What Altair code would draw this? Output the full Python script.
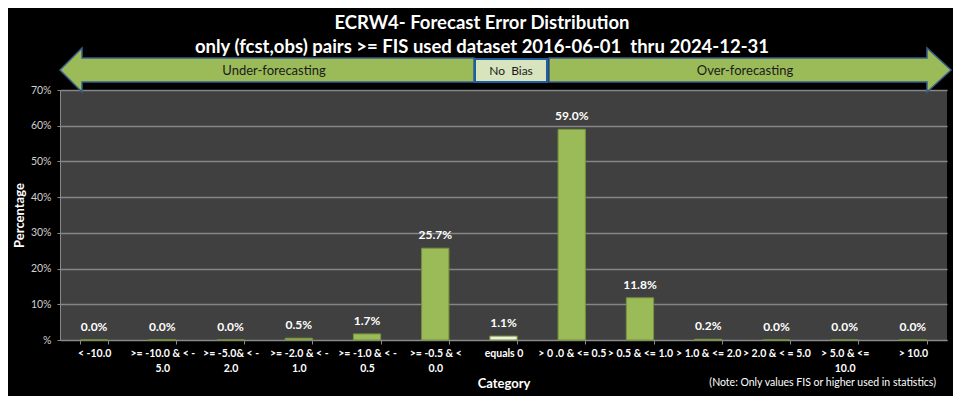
import altair as alt
import pandas as pd

# ---- data ----
categories = [
    "< -10.0",
    ">= -10.0 & < -|5.0",
    ">= -5.0& < -|2.0",
    ">= -2.0 & < -|1.0",
    ">= -1.0 & < -|0.5",
    ">= -0.5 & <|0.0",
    "equals 0",
    "> 0 .0 & <= 0.5",
    "> 0.5 & <= 1.0",
    "> 1.0 & <= 2.0",
    "> 2.0 & < = 5.0",
    "> 5.0 & <=|10.0",
    "> 10.0",
]
percentages = [0.0, 0.0, 0.0, 0.5, 1.7, 25.7, 1.1, 59.0, 11.8, 0.2, 0.0, 0.0, 0.0]
y_ticks = [0, 10, 20, 30, 40, 50, 60, 70]
title_line1 = "ECRW4- Forecast Error Distribution"
title_line2 = "only (fcst,obs) pairs >= FIS used dataset 2016-06-01\u00a0 thru 2024-12-31"
arrow_left_text = "Under-forecasting"
arrow_mid_text = "No\u00a0 Bias"
arrow_right_text = "Over-forecasting"
note_text = "(Note: Only values FIS or higher used in statistics)"

df = pd.DataFrame({"category": categories, "value": percentages})

FONT = "Lato"
W, H = 887, 250

x_enc = alt.X(
    "category:N",
    sort=None,
    scale=alt.Scale(paddingInner=0.6, paddingOuter=0.3),
    axis=alt.Axis(
        title="Category",
        titleColor="white",
        titleFont=FONT,
        titleFontSize=13,
        titleFontWeight="bold",
        titlePadding=4,
        labelExpr="split(datum.label, '|')",
        labelColor="white",
        labelFont=FONT,
        labelFontSize=10.5,
        labelFontWeight="bold",
        labelLineHeight=15,
        labelPadding=4,
        labelAngle=0,
        labelLimit=120,
        labelOverlap=False,
        tickBand="extent",
        tickColor="#8a8a8a",
        tickSize=4,
        domainColor="#8a8a8a",
        grid=False,
    ),
)
y_enc = alt.Y(
    "value:Q",
    scale=alt.Scale(domain=[0, 70], nice=False),
    axis=alt.Axis(
        title="Percentage",
        titleColor="white",
        titleFont=FONT,
        titleFontSize=13,
        titleFontWeight="bold",
        titlePadding=4,
        values=y_ticks,
        labelOverlap=False,
        labelExpr="datum.value == 0 ? '%' : datum.value + '%'",
        labelColor="#d0d0d0",
        labelFont=FONT,
        labelFontSize=10.5,
        labelPadding=6,
        tickColor="#8a8a8a",
        tickSize=3,
        domainColor="#8a8a8a",
        grid=True,
        gridColor="#858585",
        gridWidth=1.5,
    ),
)

base = alt.Chart(df)

bars = base.mark_bar(stroke="#77933c", strokeWidth=1).encode(
    x=x_enc,
    y=y_enc,
    fill=alt.condition(
        alt.datum.category == "equals 0", alt.value("#ebf1de"), alt.value("#9bbb59")
    ),
)

labels = base.transform_calculate(
    label="format(datum.value, '.1f') + '%'"
).mark_text(
    baseline="bottom", dy=-6, color="white", font=FONT, fontSize=12, fontWeight="bold"
).encode(x=x_enc, y=y_enc, text="label:N")

one = alt.Data(values=[{"d": 0}])

left_path = "M0,-20 L22,-42 L22,-32 L414,-32 L414,-8 L22,-8 L22,2 Z"
right_path = "M489,-32 L867,-32 L867,-42 L891,-20 L867,2 L867,-8 L489,-8 Z"

arrow_left = alt.Chart(one).mark_point(
    shape=left_path, size=4, filled=True, fill="#9bbb59", stroke="#385d8a",
    strokeWidth=1.5, opacity=1, clip=False,
).encode(x=alt.value(0), y=alt.value(0))
arrow_right = alt.Chart(one).mark_point(
    shape=right_path, size=4, filled=True, fill="#9bbb59", stroke="#385d8a",
    strokeWidth=1.5, opacity=1, clip=False,
).encode(x=alt.value(0), y=alt.value(0))
nobias_box = alt.Chart(one).mark_rect(
    fill="#d7e4bd", stroke="#1f5f9f", strokeWidth=2, clip=False
).encode(x=alt.value(415), x2=alt.value(487), y=alt.value(-31), y2=alt.value(-8))

def deco_text(txt, x, y, size, color, weight="normal", baseline="middle", align="center"):
    return alt.Chart(one).mark_text(
        text=txt, font=FONT, fontSize=size, fontWeight=weight, color=color,
        baseline=baseline, align=align,
    ).encode(x=alt.value(x), y=alt.value(y))

t_left = deco_text(arrow_left_text, 214, -19, 13, "#1a1a1a")
t_mid = deco_text(arrow_mid_text, 451, -19, 12, "#1a1a1a")
t_right = deco_text(arrow_right_text, 685, -19, 13, "#1a1a1a")
title1 = deco_text(title_line1, 422, -61, 18.5, "white", "bold", "alphabetic")
title2 = deco_text(title_line2, 422, -37, 18.5, "white", "bold", "alphabetic")
note = deco_text(note_text, 876, 293, 10.5, "white", "normal", "middle", "right")

chart = alt.layer(
    bars, labels, arrow_left, arrow_right, nobias_box, t_left, t_mid, t_right,
    title1, title2, note,
).properties(
    width=W,
    height=H,
    background="#000000",
    autosize=alt.AutoSizeParams(type="none"),
    padding={"left": 52, "top": 82, "right": 6, "bottom": 56},
).configure_view(fill="#404040", strokeWidth=0)

chart.save("out.html", embed_options={"renderer": "svg", "actions": False})
